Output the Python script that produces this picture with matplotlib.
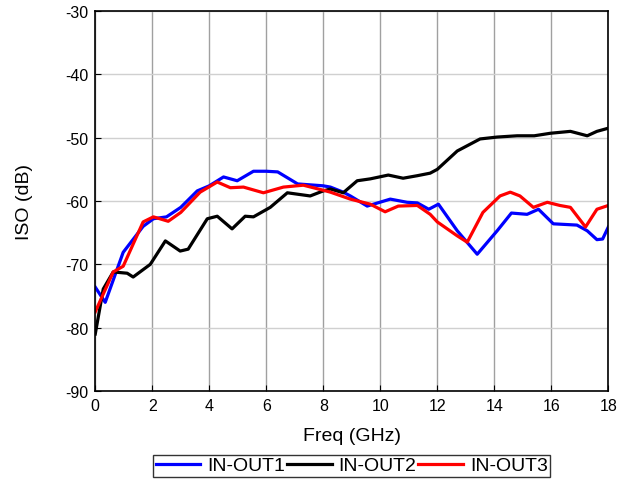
import matplotlib.pyplot as plt

plt.rcParams['font.family'] = ['Liberation Sans', 'DejaVu Sans']
plt.rcParams['axes.unicode_minus'] = False

# IN-OUT1 (blue)
f1 = [0, 0.35, 0.98, 1.68, 2.04, 2.5, 3.0, 3.58, 4.0, 4.5, 4.98, 5.55, 6.0, 6.4, 7.1, 8.0, 8.25,
      8.7, 8.95, 9.54, 10.35, 10.94, 11.3, 11.7, 12.04, 12.7, 13.4, 14.1, 14.6, 15.15, 15.55,
      16.07, 16.9, 17.26, 17.6, 17.8, 18]
iso1 = [-73.6, -76.0, -68.1, -64.0, -62.8, -62.5, -61.0, -58.4, -57.6, -56.2, -56.8, -55.3, -55.3,
        -55.4, -57.3, -57.6, -57.8, -58.6, -59.2, -60.8, -59.7, -60.2, -60.3, -61.3, -60.5,
        -64.7, -68.4, -64.7, -61.9, -62.1, -61.3, -63.6, -63.8, -64.7, -66.1, -66.0, -64.1]

# IN-OUT2 (black)
f2 = [0, 0.28, 0.63, 1.12, 1.33, 1.93, 2.46, 2.98, 3.26, 3.93, 4.28, 4.8, 5.26, 5.55, 6.14,
      6.74, 7.54, 8.0, 8.25, 8.7, 9.19, 9.65, 10.28, 10.8, 11.3, 11.75, 12.0, 12.7, 13.5,
      14.1, 14.8, 15.4, 15.97, 16.67, 17.26, 17.6, 18]
iso2 = [-81.0, -73.9, -71.2, -71.4, -72.0, -70.0, -66.3, -67.9, -67.6, -62.8, -62.4, -64.4,
        -62.4, -62.5, -61.0, -58.7, -59.2, -58.4, -58.1, -58.7, -56.8, -56.5, -55.9, -56.4,
        -56.0, -55.6, -55.0, -52.1, -50.2, -49.9, -49.7, -49.7, -49.3, -49.0, -49.7, -49.0, -48.5]

# IN-OUT3 (red)
f3 = [0, 0.63, 0.98, 1.68, 2.04, 2.56, 3.0, 3.68, 4.28, 4.74, 5.2, 5.9, 6.6, 7.3, 8.0, 8.25,
      8.95, 9.65, 10.17, 10.63, 11.3, 11.75, 12.0, 12.7, 13.05, 13.6, 14.2, 14.56, 14.9,
      15.37, 15.86, 16.3, 16.67, 17.2, 17.6, 18]
iso3 = [-77.5, -71.2, -70.3, -63.3, -62.5, -63.2, -61.8, -58.6, -57.0, -57.9, -57.8, -58.7,
        -57.8, -57.5, -58.3, -58.6, -59.7, -60.5, -61.7, -60.8, -60.7, -62.1, -63.3, -65.5,
        -66.5, -61.8, -59.2, -58.6, -59.2, -61.0, -60.2, -60.7, -61.0, -64.1, -61.3, -60.7]

fig = plt.figure(figsize=(6.35, 4.81), dpi=100)
ax = fig.add_axes([0.15, 0.185, 0.808, 0.79])

ax.plot(f1, iso1, color='#0000ff', lw=2.3, label='IN-OUT1')
ax.plot(f2, iso2, color='black', lw=2.3, label='IN-OUT2')
ax.plot(f3, iso3, color='#ff0000', lw=2.3, label='IN-OUT3')

ax.set_xlim(0, 18)
ax.set_ylim(-90, -30)
ax.set_xticks(range(0, 19, 2))
ax.set_yticks(range(-90, -29, 10))
ax.xaxis.grid(True, color='#a0a0a0', lw=1)
ax.yaxis.grid(True, color='#d0d0d0', lw=1)
ax.tick_params(direction='in', labelsize=11.5, length=4, pad=5)
for s in ax.spines.values():
    s.set_linewidth(1.2)

ax.set_xlabel('Freq (GHz)', fontsize=14, labelpad=10)
ax.set_ylabel('ISO (dB)', fontsize=14, labelpad=23)

leg = ax.legend(loc='upper center', bbox_to_anchor=(0.5, -0.168), ncol=3,
                frameon=True, fancybox=False, edgecolor='black', fontsize=14,
                handlelength=2.3, handletextpad=0.35, columnspacing=0.1,
                borderpad=0.12, borderaxespad=0, handleheight=0.6)
leg.get_frame().set_linewidth(1)

fig.savefig('out.png')
